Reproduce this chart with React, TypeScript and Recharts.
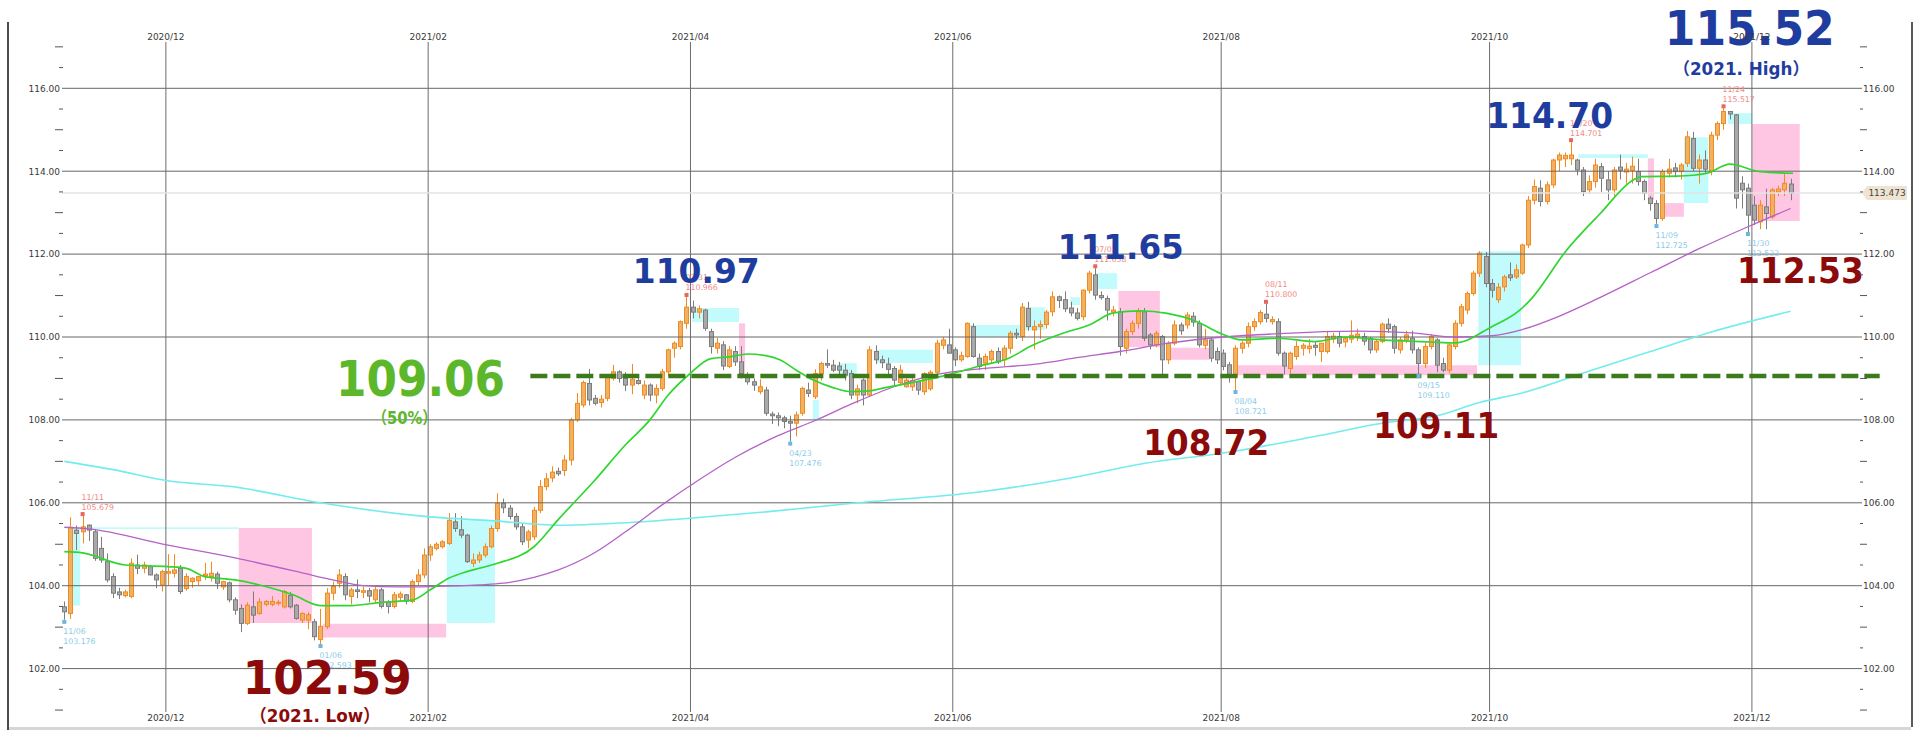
import React from "react";
import {
  ComposedChart,
  Bar,
  Line,
  XAxis,
  YAxis,
  ReferenceLine,
  ReferenceArea,
  ReferenceDot,
} from "recharts";

// USD/JPY daily candles, [open, high, low, close]
const nov2020 = [
  [103.49, 103.62, 103.18, 103.37], [103.33, 105.65, 103.2, 105.41], [105.34, 105.45, 104.86, 105.26],
  [105.3, 105.68, 105.02, 105.42], [105.46, 105.48, 105.08, 105.34], [105.3, 105.35, 104.6, 104.66],
  [104.9, 105.18, 104.55, 104.62], [104.58, 104.78, 104.08, 104.14], [104.22, 104.3, 103.7, 103.82],
  [103.85, 103.95, 103.68, 103.78], [103.76, 103.9, 103.72, 103.85], [103.74, 104.66, 103.7, 104.54],
  [104.5, 104.75, 104.28, 104.42], [104.42, 104.58, 104.3, 104.5], [104.46, 104.5, 104.25, 104.26],
  [104.26, 104.3, 103.94, 104.14], [104.02, 104.38, 103.86, 104.34],
];
const dec2020 = [
  [104.3, 104.76, 104.0, 104.34], [104.3, 104.76, 104.2, 104.38], [104.42, 104.5, 103.8, 103.86],
  [103.93, 104.3, 103.88, 104.22], [104.1, 104.2, 103.95, 104.18], [104.12, 104.24, 104.0, 104.22],
  [104.24, 104.55, 104.14, 104.28], [104.22, 104.58, 104.1, 104.3], [104.28, 104.34, 103.92, 104.06],
  [103.97, 104.12, 103.9, 104.1], [104.07, 104.1, 103.6, 103.66], [103.66, 103.72, 103.3, 103.41],
  [103.45, 103.55, 102.88, 103.09], [103.09, 103.6, 103.05, 103.53], [103.49, 103.86, 103.1, 103.29],
  [103.33, 103.7, 103.3, 103.61], [103.55, 103.66, 103.5, 103.62], [103.55, 103.75, 103.5, 103.62],
  [103.58, 103.66, 103.52, 103.6], [103.49, 103.9, 103.45, 103.86], [103.77, 103.85, 103.45, 103.49],
  [103.53, 103.56, 103.18, 103.21], [103.17, 103.36, 103.1, 103.33],
];
const jan2021 = [
  [103.17, 103.36, 102.95, 103.3], [103.13, 103.2, 102.68, 102.77], [102.7, 103.44, 102.59, 103.02],
  [103.01, 103.94, 102.95, 103.82], [103.82, 104.1, 103.65, 103.98], [104.06, 104.4, 103.95, 104.26],
  [104.22, 104.3, 103.65, 103.78], [103.74, 103.95, 103.55, 103.9], [103.9, 104.15, 103.7, 103.86],
  [103.84, 103.98, 103.7, 103.88], [103.88, 103.95, 103.6, 103.75], [103.66, 103.98, 103.6, 103.9],
  [103.9, 103.95, 103.45, 103.5], [103.6, 103.65, 103.33, 103.5], [103.5, 103.85, 103.45, 103.78],
  [103.72, 103.86, 103.62, 103.8], [103.78, 103.8, 103.55, 103.63], [103.62, 104.15, 103.58, 104.1],
  [104.1, 104.4, 104.0, 104.26], [104.26, 104.9, 104.18, 104.74],
];
const feb2021 = [
  [104.74, 105.0, 104.6, 104.94], [104.9, 105.05, 104.85, 105.0], [104.94, 105.1, 104.9, 105.06],
  [105.02, 105.75, 104.98, 105.58], [105.54, 105.75, 105.3, 105.38], [105.35, 105.68, 105.15, 105.22],
  [105.22, 105.25, 104.55, 104.58], [104.54, 104.78, 104.45, 104.62], [104.62, 104.82, 104.55, 104.74],
  [104.74, 105.02, 104.68, 104.94], [104.94, 105.45, 104.9, 105.38], [105.38, 106.23, 105.3, 105.99],
  [105.99, 106.1, 105.75, 105.88], [105.87, 105.95, 105.6, 105.67], [105.67, 105.75, 105.35, 105.42],
  [105.42, 105.5, 104.98, 105.06], [105.1, 105.35, 104.9, 105.3], [105.18, 105.9, 105.1, 105.82],
  [105.82, 106.55, 105.75, 106.39], [106.39, 106.72, 106.3, 106.58],
];
const mar2021 = [
  [106.6, 106.88, 106.5, 106.74], [106.76, 106.85, 106.65, 106.7], [106.78, 107.15, 106.65, 107.03],
  [107.03, 108.05, 106.9, 108.0], [108.0, 108.65, 107.95, 108.4], [108.36, 108.95, 108.3, 108.9],
  [108.88, 109.23, 108.35, 108.48], [108.52, 108.6, 108.35, 108.4], [108.42, 108.6, 108.3, 108.5],
  [108.52, 109.08, 108.45, 109.04], [109.0, 109.33, 108.95, 109.16], [109.16, 109.2, 108.9, 109.0],
  [109.0, 109.15, 108.7, 108.84], [108.84, 109.35, 108.62, 108.98], [108.95, 109.1, 108.85, 108.88],
  [108.6, 108.95, 108.5, 108.84], [108.84, 108.88, 108.45, 108.6], [108.6, 108.86, 108.4, 108.76],
  [108.76, 109.23, 108.7, 109.16], [109.16, 109.72, 109.05, 109.69], [109.73, 109.9, 109.5, 109.85],
  [109.77, 110.4, 109.7, 110.37], [110.33, 110.97, 110.2, 110.72],
];
const apr2021 = [
  [110.72, 110.88, 110.45, 110.6], [110.6, 110.76, 110.45, 110.68], [110.65, 110.68, 110.15, 110.21],
  [110.13, 110.2, 109.6, 109.77], [109.73, 109.98, 109.6, 109.85], [109.81, 109.9, 109.2, 109.3],
  [109.29, 109.78, 109.25, 109.69], [109.65, 109.78, 109.3, 109.4], [109.4, 109.78, 109.0, 109.12],
  [109.05, 109.15, 108.85, 108.92], [108.92, 109.0, 108.7, 108.84], [108.68, 108.98, 108.62, 108.8],
  [108.72, 108.8, 108.1, 108.16], [108.14, 108.2, 107.9, 108.1], [108.1, 108.18, 107.85, 108.05],
  [108.05, 108.1, 107.8, 107.96], [107.96, 108.1, 107.48, 107.92], [107.92, 108.2, 107.6, 108.12],
  [108.16, 108.8, 108.1, 108.76], [108.72, 108.9, 108.55, 108.64], [108.56, 109.22, 108.5, 109.12],
  [109.12, 109.4, 108.95, 109.36],
];
const may2021 = [
  [109.36, 109.7, 109.25, 109.32], [109.32, 109.45, 109.15, 109.2], [109.3, 109.4, 109.1, 109.2],
  [109.2, 109.35, 108.95, 109.08], [109.12, 109.2, 108.5, 108.6], [108.6, 108.85, 108.4, 108.75],
  [108.96, 109.0, 108.35, 108.6], [108.6, 109.78, 108.55, 109.69], [109.65, 109.8, 109.35, 109.45],
  [109.45, 109.55, 109.25, 109.38], [109.35, 109.5, 109.1, 109.22], [109.24, 109.3, 108.8, 108.96],
  [108.9, 109.33, 108.85, 109.2], [108.8, 109.1, 108.78, 108.96], [108.8, 109.05, 108.7, 108.95],
  [108.92, 108.95, 108.6, 108.72], [108.68, 109.15, 108.6, 109.12], [108.75, 109.2, 108.7, 109.15],
  [109.15, 109.93, 109.05, 109.85], [109.8, 110.0, 109.7, 109.93], [109.81, 110.2, 109.6, 109.61],
];
const jun2021 = [
  [109.69, 109.75, 109.3, 109.45], [109.45, 109.65, 109.4, 109.55], [109.53, 110.35, 109.5, 110.33],
  [110.25, 110.33, 109.5, 109.53], [109.49, 109.6, 109.2, 109.29], [109.37, 109.6, 109.2, 109.53],
  [109.45, 109.7, 109.35, 109.65], [109.65, 109.75, 109.35, 109.4], [109.45, 109.8, 109.3, 109.73],
  [109.73, 110.15, 109.6, 110.09], [110.09, 110.2, 109.95, 110.05], [110.01, 110.82, 109.9, 110.72],
  [110.69, 110.85, 110.15, 110.25], [110.17, 110.4, 109.7, 110.25], [110.25, 110.4, 109.95, 110.3],
  [110.3, 110.65, 110.2, 110.6], [110.61, 111.1, 110.5, 110.97], [110.97, 111.0, 110.7, 110.88],
  [110.9, 111.1, 110.6, 110.68], [110.7, 110.85, 110.5, 110.58], [110.58, 110.7, 110.4, 110.45],
  [110.49, 111.15, 110.4, 111.13],
];
const jul2021 = [
  [111.13, 111.6, 111.05, 111.54], [111.5, 111.66, 110.9, 111.01], [111.0, 111.1, 110.9, 110.95],
  [110.93, 111.0, 110.4, 110.65], [110.6, 110.75, 110.5, 110.65], [110.61, 110.7, 109.55, 109.77],
  [109.73, 110.2, 109.6, 110.13], [110.13, 110.4, 110.05, 110.33], [110.33, 110.7, 110.2, 110.61],
  [110.61, 110.7, 109.9, 109.97], [110.05, 110.1, 109.7, 109.81], [109.81, 110.15, 109.75, 110.09],
  [110.01, 110.05, 109.1, 109.45], [109.45, 109.9, 109.35, 109.85], [109.85, 110.4, 109.8, 110.29],
  [110.29, 110.35, 110.05, 110.15], [110.29, 110.6, 110.2, 110.53], [110.5, 110.6, 110.25, 110.36],
  [110.33, 110.4, 109.75, 109.81], [109.8, 110.2, 109.7, 109.93], [109.93, 110.0, 109.4, 109.49],
  [109.65, 109.75, 109.35, 109.45],
];
const aug2021 = [
  [109.61, 109.7, 109.2, 109.29], [109.33, 109.4, 108.9, 109.04], [109.04, 109.8, 108.72, 109.73],
  [109.73, 109.9, 109.6, 109.85], [109.85, 110.35, 109.75, 110.25], [110.25, 110.45, 110.15, 110.37],
  [110.37, 110.65, 110.3, 110.59], [110.55, 110.8, 110.35, 110.45], [110.37, 110.5, 110.3, 110.42],
  [110.37, 110.45, 109.55, 109.61], [109.61, 109.65, 109.1, 109.3], [109.24, 109.65, 109.12, 109.61],
  [109.53, 109.9, 109.45, 109.77], [109.73, 109.85, 109.55, 109.8], [109.72, 109.95, 109.6, 109.78],
  [109.8, 109.9, 109.55, 109.75], [109.65, 109.85, 109.4, 109.85], [109.65, 110.15, 109.6, 110.01],
  [109.95, 110.1, 109.85, 110.02], [110.01, 110.12, 109.75, 109.85], [109.88, 110.0, 109.75, 109.97],
  [109.95, 110.4, 109.85, 110.04],
];
const sep2021 = [
  [110.0, 110.2, 109.9, 110.07], [110.01, 110.1, 109.8, 109.9], [109.97, 110.0, 109.6, 109.69],
  [109.69, 109.95, 109.62, 109.89], [109.89, 110.35, 109.85, 110.31], [110.31, 110.45, 110.1, 110.2],
  [110.25, 110.3, 109.6, 109.73], [109.69, 110.0, 109.6, 109.93], [109.93, 110.15, 109.85, 110.05],
  [109.97, 110.15, 109.6, 109.69], [109.69, 109.75, 109.11, 109.36], [109.36, 109.85, 109.25, 109.77],
  [109.77, 110.07, 109.7, 110.01], [109.93, 109.97, 109.15, 109.32], [109.36, 109.5, 109.15, 109.2],
  [109.2, 109.85, 109.12, 109.81], [109.77, 110.4, 109.7, 110.33], [110.33, 110.8, 110.25, 110.73],
  [110.65, 111.1, 110.55, 111.05], [111.05, 111.6, 111.0, 111.54], [111.54, 112.07, 111.45, 112.02],
  [111.94, 112.05, 111.2, 111.29],
];
const oct2021 = [
  [111.29, 111.4, 110.95, 111.13], [110.9, 111.3, 110.82, 111.2], [111.21, 111.5, 111.1, 111.45],
  [111.5, 111.8, 111.35, 111.43], [111.45, 111.75, 111.4, 111.62], [111.54, 112.25, 111.5, 112.22],
  [112.22, 113.4, 112.15, 113.3], [113.3, 113.8, 113.2, 113.63], [113.59, 113.78, 113.15, 113.27],
  [113.27, 113.75, 113.2, 113.67], [113.67, 114.3, 113.6, 114.27], [114.27, 114.45, 114.0, 114.39],
  [114.3, 114.45, 114.1, 114.38], [114.3, 114.7, 114.15, 114.39], [114.27, 114.3, 113.9, 114.03],
  [114.03, 114.1, 113.4, 113.51], [113.55, 113.9, 113.45, 113.75], [113.75, 114.3, 113.6, 114.15],
  [114.11, 114.2, 113.5, 113.83], [113.79, 114.0, 113.3, 113.55], [113.55, 114.1, 113.4, 114.03],
];
const nov2021 = [
  [114.1, 114.4, 113.8, 114.02], [113.98, 114.2, 113.7, 114.05], [114.02, 114.35, 113.7, 114.12],
  [113.99, 114.3, 113.65, 113.75], [113.75, 113.8, 113.3, 113.47], [113.35, 113.4, 113.05, 113.22],
  [113.22, 113.3, 112.73, 112.86], [112.86, 114.05, 112.8, 113.99], [113.95, 114.3, 113.85, 114.05],
  [114.08, 114.2, 113.85, 113.99], [113.99, 114.2, 113.8, 114.15], [114.19, 114.97, 114.1, 114.83],
  [114.79, 114.95, 114.0, 114.07], [114.07, 114.4, 113.7, 114.27], [114.27, 114.5, 113.95, 114.05],
  [113.99, 114.95, 113.9, 114.87], [114.87, 115.2, 114.75, 115.15], [115.15, 115.52, 115.0, 115.44],
  [115.44, 115.45, 115.25, 115.38], [115.36, 115.38, 113.1, 113.35], [113.71, 113.88, 113.1, 113.55],
  [113.59, 113.7, 112.53, 112.94],
];
const dec2021 = [
  [113.18, 113.4, 112.7, 112.82], [112.78, 113.3, 112.6, 113.18], [113.14, 113.58, 112.6, 112.98],
  [112.9, 113.6, 112.85, 113.55], [113.5, 113.65, 113.4, 113.57], [113.55, 113.95, 113.4, 113.71],
  [113.69, 113.82, 113.3, 113.47],
];

// first trading day of every other month (candle index) and its label
const monthStarts = [17, 60, 103, 146, 190, 234, 277];
const monthLabels = ["2020/12", "2021/02", "2021/04", "2021/06", "2021/08", "2021/10", "2021/12"];

// moving averages, [candle index, value]
const maShort = [
  [0, 104.82], [3, 104.79], [10, 104.5], [17, 104.46], [20, 104.42], [23, 104.22], [28, 104.14],
  [33, 103.98], [37.5, 103.78], [42, 103.52], [47, 103.52], [52, 103.6], [57, 103.65], [60, 103.9],
  [63, 104.18], [66, 104.34], [68, 104.42], [71, 104.54], [77, 104.94], [81, 105.6], [87, 106.55],
  [92, 107.4], [96, 108.0], [99, 108.6], [102.6, 109.12], [106, 109.48], [109, 109.52], [112, 109.59],
  [115, 109.55], [117.3, 109.45], [120, 109.2], [122.8, 108.96], [126, 108.78], [129, 108.68],
  [132, 108.7], [134, 108.76], [139, 108.9], [144.7, 109.08], [150, 109.3], [155, 109.5],
  [158.3, 109.77], [163.7, 110.09], [168, 110.29], [172, 110.58], [176.4, 110.63], [180.8, 110.57],
  [185.7, 110.37], [189.5, 110.09], [193, 109.93], [199, 109.97], [205, 109.89], [210, 110.0],
  [216, 109.93], [224, 109.88], [228, 109.86], [234, 110.25], [238.6, 110.65], [240.3, 110.89],
  [246.3, 112.1], [251.8, 112.98], [257.2, 113.79], [258.5, 113.87], [264.4, 113.88], [269.3, 113.95],
  [273, 114.17], [278, 113.99], [283.4, 113.95],
];
const maMid = [
  [0, 105.41], [4, 105.37], [17, 104.98], [28, 104.67], [39, 104.31], [44, 104.14], [49, 104.0],
  [55, 103.97], [60, 103.98], [68, 104.02], [72, 104.06], [77, 104.2], [81, 104.38], [87, 104.8],
  [92, 105.3], [98, 105.95], [104, 106.55], [110, 107.1], [117, 107.62], [123, 107.98], [129, 108.38],
  [136, 108.8], [143, 109.1], [150, 109.23], [160, 109.36], [166, 109.5], [173, 109.65], [181, 109.85],
  [190, 110.0], [199, 110.08], [212, 110.14], [221, 110.1], [228, 110.0], [234, 110.03], [239, 110.18],
  [245, 110.5], [251, 110.9], [260, 111.55], [268, 112.13], [276, 112.66], [283, 113.1],
];
const maLong = [
  [0, 107.0], [8, 106.8], [17, 106.53], [28, 106.38], [42, 106.0], [60, 105.66], [70, 105.57],
  [81, 105.46], [92, 105.52], [102, 105.62], [115, 105.78], [130, 106.0], [150, 106.26], [165, 106.6],
  [177, 106.95], [190, 107.2], [205, 107.6], [216, 107.92], [225, 108.1], [232, 108.42], [239, 108.65],
  [250, 109.18], [260, 109.65], [270, 110.12], [283, 110.62],
];

// range boxes, [from index, to index, top, bottom]
const pinkBoxes = [
  [28.6, 40.6, 105.39, 103.1], [42.4, 62.6, 103.08, 102.75], [110.6, 111.6, 110.33, 109.13],
  [172.8, 179.6, 111.11, 109.76], [181.3, 187.8, 109.74, 109.45], [192.2, 231.6, 109.32, 109.08],
  [259.6, 260.6, 114.31, 113.3], [262.1, 265.5, 113.23, 112.9], [276.7, 284.5, 115.14, 112.8],
];
const cyanBoxes = [
  [1.4, 2.6, 105.41, 103.52], [2.6, 28.6, 105.41, 105.37], [62.7, 70.6, 105.58, 103.1],
  [102.9, 110.6, 110.7, 110.36], [122.7, 123.7, 108.48, 108.0], [126.8, 129.9, 109.37, 109.04],
  [133.2, 142.4, 109.69, 109.37], [148.5, 156.7, 110.29, 110.0], [157.0, 160.8, 110.72, 110.17],
  [164.9, 166.5, 110.96, 110.77], [169.0, 172.6, 111.54, 111.16], [231.8, 238.8, 112.07, 109.32],
  [248.2, 259.6, 114.41, 114.32], [265.5, 269.5, 114.82, 113.23], [272.7, 276.7, 115.4, 115.14],
];

// swing highs / lows marked on the chart
const pivots = [
  { i: 0, v: 103.176, date: "11/06", kind: "low" },
  { i: 3, v: 105.679, date: "11/11", kind: "high" },
  { i: 42, v: 102.593, date: "01/06", kind: "low" },
  { i: 102, v: 110.966, date: "03/31", kind: "high" },
  { i: 119, v: 107.476, date: "04/23", kind: "low" },
  { i: 169, v: 111.658, date: "07/02", kind: "high" },
  { i: 192, v: 108.721, date: "08/04", kind: "low" },
  { i: 197, v: 110.8, date: "08/11", kind: "high" },
  { i: 222, v: 109.11, date: "09/15", kind: "low" },
  { i: 247, v: 114.701, date: "10/20", kind: "high" },
  { i: 261, v: 112.725, date: "11/09", kind: "low" },
  { i: 272, v: 115.517, date: "11/24", kind: "high" },
  { i: 276, v: 112.533, date: "11/30", kind: "low" },
];

const BLUE = "#1f3d9e";
const RED = "#8b0a0a";
const GREEN = "#5cb82a";

// big call-outs: anchor (index, price), text, colour, font size, text width
const callouts = [
  { i: 276.3, v: 117.045, text: "115.52", color: BLUE, size: 48, w: 170 },
  { i: 274.9, v: 116.32, text: "（2021. High）", color: BLUE, size: 17, w: 136 },
  { i: 243.5, v: 115.04, text: "114.70", color: BLUE, size: 35, w: 127 },
  { i: 103.6, v: 111.3, text: "110.97", color: BLUE, size: 34, w: 127 },
  { i: 173.2, v: 111.88, text: "111.65", color: BLUE, size: 34, w: 126 },
  { i: 58.4, v: 108.58, text: "109.06", color: GREEN, size: 49, w: 169 },
  { i: 55.8, v: 107.9, text: "（50%）", color: GREEN, size: 17, w: 65 },
  { i: 43.1, v: 101.39, text: "102.59", color: RED, size: 47, w: 169 },
  { i: 41.1, v: 100.71, text: "（2021. Low）", color: RED, size: 18, w: 130 },
  { i: 187.2, v: 107.155, text: "108.72", color: RED, size: 35, w: 126 },
  { i: 224.9, v: 107.565, text: "109.11", color: RED, size: 35, w: 126 },
  { i: 284.6, v: 111.3, text: "112.53", color: RED, size: 35, w: 127 },
];

const lastPrice = 113.473;
const fibo50 = 109.06;
const fiboFrom = 76.4;
const fiboTo = 297.6;

const X_MIN = -0.377;
const X_MAX = 294.7;
const Y_MIN = 100.953;
const Y_MAX = 117.117;

const FONT = "'DejaVu Sans', Verdana, sans-serif";

const candles = [
  ...nov2020, ...dec2020, ...jan2021, ...feb2021, ...mar2021, ...apr2021, ...may2021,
  ...jun2021, ...jul2021, ...aug2021, ...sep2021, ...oct2021, ...nov2021, ...dec2021,
].map(([o, h, l, c], i) => ({ i, o, h, l, c, range: [l, h] }));

const pts = (arr: number[][]) => arr.map(([i, v]) => ({ i, v }));

const yTicks: number[] = [];
for (let k = 0; k <= 32; k++) yTicks.push(101 + k * 0.5);
const gridValues = [102, 104, 106, 108, 110, 112, 114, 116];
const monthTicks = monthStarts.map((m) => m - 0.35);

function Candle(props: any) {
  const { x, y, width, height, payload } = props;
  if (x == null || !payload) return null;
  const { o, h, l, c } = payload;
  const top = Math.min(y, y + height);
  const bot = Math.max(y, y + height);
  const span = h - l || 1;
  const py = (v: number) => top + ((h - v) / span) * (bot - top);
  const up = c >= o;
  const cx = Math.round(x + width / 2) + 0.5;
  const bt = py(Math.max(o, c));
  const bb = py(Math.min(o, c));
  const stroke = up ? "#f28a22" : "#7c7c7c";
  const fill = up ? "#efb265" : "#a9a9a9";
  return (
    <g>
      <line x1={cx} x2={cx} y1={top} y2={bot} stroke={stroke} strokeWidth={1} />
      <rect
        x={cx - 2}
        y={bt}
        width={4}
        height={Math.max(bb - bt, 1)}
        fill={fill}
        stroke={stroke}
        strokeWidth={1}
      />
    </g>
  );
}

function YTick(props: any) {
  const { y, payload } = props;
  const v = payload.value;
  const major = Math.abs(v / 2 - Math.round(v / 2)) < 1e-6;
  const whole = Math.abs(v - Math.round(v)) < 1e-6;
  if (major) {
    return (
      <g fontFamily={FONT} fontSize={9} fill="#3a3a3a">
        <text x={60} y={y + 3.3} textAnchor="end">{v.toFixed(2)}</text>
        <text x={1863} y={y + 3.3} textAnchor="start">{v.toFixed(2)}</text>
      </g>
    );
  }
  const len = whole ? 8 : 4;
  return (
    <g stroke="#555" strokeWidth={1}>
      <line x1={63 - len} x2={63} y1={y} y2={y} />
      <line x1={1860} x2={1860 + len - 1} y1={y} y2={y} />
    </g>
  );
}

function XTick(props: any) {
  const { x, index } = props;
  const label = monthLabels[index] ?? "";
  return (
    <g fontFamily={FONT} fontSize={9} fill="#3a3a3a">
      <text x={x} y={39.5} textAnchor="middle">{label}</text>
      <text x={x} y={720.5} textAnchor="middle">{label}</text>
    </g>
  );
}

function PivotMark(props: any) {
  const { cx, cy, p } = props;
  if (cx == null) return null;
  const high = p.kind === "high";
  const txt = high ? "#f08a86" : "#8ccbe8";
  const mark = high ? "#e8665c" : "#6cb7e0";
  const my = high ? cy - 2 : cy + 2;
  const t1 = high ? cy - 16.5 : cy + 14;
  const t2 = high ? cy - 6.5 : cy + 24;
  return (
    <g fontFamily={FONT} fontSize={7.8} fill={txt}>
      <rect x={cx - 2} y={my - 2} width={4} height={4} fill={mark} />
      <text x={cx - 1} y={t1}>{p.date}</text>
      <text x={cx - 1} y={t2}>{p.v.toFixed(3)}</text>
    </g>
  );
}

function Callout(props: any) {
  const { cx, cy, a } = props;
  if (cx == null) return null;
  return (
    <text
      x={cx}
      y={cy}
      textAnchor="middle"
      fontFamily="'DejaVu Sans', 'Noto Sans CJK JP', sans-serif"
      fontWeight="bold"
      fontSize={a.size}
      fill={a.color}
      textLength={a.w}
      lengthAdjust="spacingAndGlyphs"
    >
      {a.text}
    </text>
  );
}

function PriceTag(props: any) {
  const { cx, cy } = props;
  if (cx == null) return null;
  return (
    <g>
      <path d={`M${cx} ${cy} L${cx + 5} ${cy - 7} H${cx + 45} V${cy + 7} H${cx + 5} Z`} fill="#efe4d2" />
      <text x={cx + 25} y={cy + 3.3} textAnchor="middle" fontFamily={FONT} fontSize={9} fill="#444">
        {lastPrice.toFixed(3)}
      </text>
    </g>
  );
}

export default function App() {
  return (
    <div style={{ position: "absolute", left: 0, top: 0, width: 1923, height: 730, background: "#fff" }}>
      <ComposedChart
        width={1923}
        height={730}
        data={candles}
        margin={{ top: 42, right: 61, bottom: 6, left: 8 }}
      >
        <XAxis
          dataKey="i"
          type="number"
          domain={[X_MIN, X_MAX]}
          allowDataOverflow
          ticks={monthTicks}
          interval={0}
          height={12}
          tickLine={false}
          axisLine={false}
          tick={(p: any) => <XTick {...p} />}
        />
        <YAxis
          type="number"
          domain={[Y_MIN, Y_MAX]}
          allowDataOverflow
          ticks={yTicks}
          interval={0}
          width={54}
          tickLine={false}
          axisLine={false}
          tick={(p: any) => <YTick {...p} />}
        />

        {gridValues.map((v) => (
          <ReferenceLine key={`gy${v}`} y={v} stroke="#676767" strokeWidth={1} />
        ))}
        {monthTicks.map((t) => (
          <ReferenceLine key={`gx${t}`} x={t} stroke="#6e6e6e" strokeWidth={1} />
        ))}
        <ReferenceLine y={lastPrice} stroke="#e3e3e3" strokeWidth={1.5} />

        <Line
          data={pts(maLong)}
          dataKey="v"
          type="monotone"
          stroke="#72ecec"
          strokeWidth={1.6}
          dot={false}
          isAnimationActive={false}
        />

        <Bar dataKey="range" barSize={5} shape={<Candle />} isAnimationActive={false} />

        {pinkBoxes.map(([x1, x2, y1, y2], k) => (
          <ReferenceArea
            key={`pb${k}`}
            x1={x1}
            x2={x2}
            y1={y1}
            y2={y2}
            fill="#ff8ec8"
            fillOpacity={0.5}
            stroke="none"
          />
        ))}
        {cyanBoxes.map(([x1, x2, y1, y2], k) => (
          <ReferenceArea
            key={`cb${k}`}
            x1={x1}
            x2={x2}
            y1={y1}
            y2={y2}
            fill="#19f2f2"
            fillOpacity={0.27}
            stroke="none"
          />
        ))}

        <Line
          data={pts(maMid)}
          dataKey="v"
          type="monotone"
          stroke="#b462c6"
          strokeWidth={1.3}
          dot={false}
          isAnimationActive={false}
        />
        <Line
          data={pts(maShort)}
          dataKey="v"
          type="monotone"
          stroke="#2fd62f"
          strokeWidth={1.7}
          dot={false}
          isAnimationActive={false}
        />

        <ReferenceLine
          segment={[
            { x: fiboFrom, y: fibo50 },
            { x: fiboTo, y: fibo50 },
          ]}
          stroke="#3c7a1c"
          strokeWidth={4.5}
          strokeDasharray="17 6"
          ifOverflow="visible"
        />

        {pivots.map((p) => (
          <ReferenceDot
            key={`pv${p.i}`}
            x={p.i}
            y={p.v}
            r={0}
            ifOverflow="visible"
            shape={(sp: any) => <PivotMark {...sp} p={p} />}
          />
        ))}

        <ReferenceDot
          x={X_MAX}
          y={lastPrice}
          r={0}
          ifOverflow="visible"
          shape={(sp: any) => <PriceTag {...sp} />}
        />

        {callouts.map((a) => (
          <ReferenceDot
            key={`co${a.text}`}
            x={a.i}
            y={a.v}
            r={0}
            ifOverflow="visible"
            shape={(sp: any) => <Callout {...sp} a={a} />}
          />
        ))}
      </ComposedChart>
      <div style={{ position: "absolute", left: 7, top: 22, width: 2, height: 708, background: "#4a4a4a" }} />
      <div style={{ position: "absolute", left: 1911, top: 22, width: 2, height: 705, background: "#5a5a5a" }} />
      <div style={{ position: "absolute", left: 9, top: 727, width: 1902, height: 3, background: "#d6d6d6" }} />
    </div>
  );
}
